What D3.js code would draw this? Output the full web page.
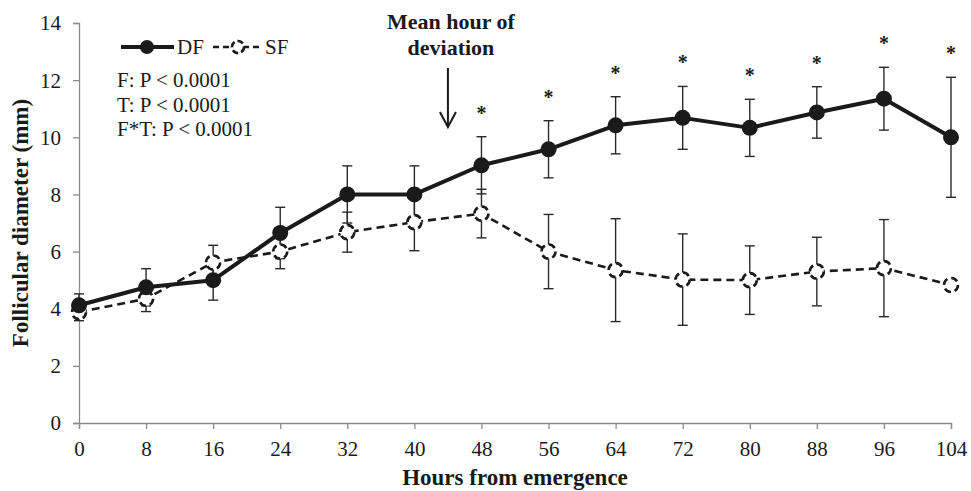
<!DOCTYPE html>
<html>
<head>
<meta charset="utf-8">
<script src="https://cdn.jsdelivr.net/npm/d3@7"></script>
<style>
  body { margin: 0; background: #fff; }
  svg text { font-family: "Liberation Serif", "Times New Roman", serif; fill: #1a1a1a; }
</style>
</head>
<body>
<svg id="viz" width="971" height="491"></svg>
<script>
// Follicular diameter chart

var hours = [0, 8, 16, 24, 32, 40, 48, 56, 64, 72, 80, 88, 96, 104];
var dfMean = [4.12, 4.75, 5.0, 6.65, 8.0, 8.0, 9.02, 9.58, 10.42, 10.68, 10.33, 10.87, 11.35, 10.0];
var dfErr = [0.4, 0.65, 0.7, 0.9, 1.0, 1.0, 1.0, 1.0, 1.0, 1.1, 1.0, 0.9, 1.1, 2.1];
var sfMean = [3.88, 4.35, 5.62, 6.0, 6.68, 7.03, 7.33, 6.0, 5.35, 5.02, 5.0, 5.3, 5.42, 4.83];
var sfErr = [0.3, 0.45, 0.6, 0.6, 0.7, 1.0, 0.85, 1.3, 1.8, 1.6, 1.2, 1.2, 1.7, 0];
var starHours = [48, 56, 64, 72, 80, 88, 96, 104];
var xTicks = [0, 8, 16, 24, 32, 40, 48, 56, 64, 72, 80, 88, 96, 104];
var yTicks = [0, 2, 4, 6, 8, 10, 12, 14];
var statLines = ["F: P < 0.0001", "T: P < 0.0001", "F*T: P < 0.0001"];
var deviationHour = 44;

var svg = d3.select("#viz");
var margin = {left: 79, right: 20, top: 23, bottom: 68};
var width = +svg.attr("width");
var height = +svg.attr("height");

var x = d3.scaleLinear().domain([0, 104]).range([margin.left, width - margin.right]);
var y = d3.scaleLinear().domain([0, 14]).range([height - margin.bottom, margin.top]);

var axisColor = "#8c8c8c";

// y axis
var yAxis = svg.append("g")
    .attr("transform", `translate(${margin.left},0)`)
    .call(d3.axisLeft(y).tickValues(yTicks).tickSize(6).tickPadding(12));
// x axis
var xAxis = svg.append("g")
    .attr("transform", `translate(0,${y(0)})`)
    .call(d3.axisBottom(x).tickValues(xTicks).tickSize(6).tickPadding(12));

[xAxis, yAxis].forEach(a => {
    a.select(".domain").attr("stroke", axisColor).attr("stroke-width", 1.3);
    a.selectAll(".tick line").attr("stroke", axisColor).attr("stroke-width", 1.3);
    a.selectAll(".tick text")
        .attr("font-size", 21)
        .attr("fill", "#1a1a1a")
        .style("font-family", "Liberation Serif, serif");
});
yAxis.selectAll(".tick text").attr("dy", "0.33em");

// axis titles
svg.append("text")
    .attr("transform", `translate(28,${y(7)}) rotate(-90)`)
    .attr("text-anchor", "middle")
    .attr("font-size", 23)
    .attr("font-weight", "bold")
    .text("Follicular diameter (mm)");
svg.append("text")
    .attr("x", x(52))
    .attr("y", 485)
    .attr("text-anchor", "middle")
    .attr("font-size", 23)
    .attr("font-weight", "bold")
    .text("Hours from emergence");

var dfData = hours.map((h, i) => ({h: h, m: dfMean[i], e: dfErr[i]}));
var sfData = hours.map((h, i) => ({h: h, m: sfMean[i], e: sfErr[i]}));

// error bars
function drawErrors(data) {
    var g = svg.append("g").attr("stroke", "#2a2a2a").attr("stroke-width", 1.4);
    data.filter(d => d.e > 0).forEach(d => {
        var cx = x(d.h), y1 = y(d.m + d.e), y2 = y(d.m - d.e);
        g.append("line").attr("x1", cx).attr("x2", cx).attr("y1", y1).attr("y2", y2);
        g.append("line").attr("x1", cx - 5).attr("x2", cx + 5).attr("y1", y1).attr("y2", y1);
        g.append("line").attr("x1", cx - 5).attr("x2", cx + 5).attr("y1", y2).attr("y2", y2);
    });
}
drawErrors(sfData);
drawErrors(dfData);

var line = d3.line().x(d => x(d.h)).y(d => y(d.m));

// SF series
svg.append("path")
    .datum(sfData)
    .attr("fill", "none")
    .attr("stroke", "#1a1a1a")
    .attr("stroke-width", 2.6)
    .attr("stroke-dasharray", "8,5")
    .attr("d", line);
svg.append("g").selectAll("circle")
    .data(sfData)
    .enter()
    .append("circle")
    .attr("cx", d => x(d.h))
    .attr("cy", d => y(d.m))
    .attr("r", 7)
    .attr("fill", "#fff")
    .attr("stroke", "#1a1a1a")
    .attr("stroke-width", 2.6)
    .attr("stroke-dasharray", "7,4");

// DF series
svg.append("path")
    .datum(dfData)
    .attr("fill", "none")
    .attr("stroke", "#1a1a1a")
    .attr("stroke-width", 4)
    .attr("stroke-linejoin", "round")
    .attr("d", line);
svg.append("g").selectAll("circle")
    .data(dfData)
    .enter()
    .append("circle")
    .attr("cx", d => x(d.h))
    .attr("cy", d => y(d.m))
    .attr("r", 8)
    .attr("fill", "#1a1a1a");

// significance stars
svg.append("g").selectAll("text")
    .data(dfData.filter(d => starHours.includes(d.h)))
    .enter()
    .append("text")
    .attr("x", d => x(d.h))
    .attr("y", d => y(d.m + d.e) - 17)
    .attr("text-anchor", "middle")
    .attr("font-size", 20)
    .attr("font-weight", "bold")
    .text("*");

// annotation
var ax = x(deviationHour);
var ann = svg.append("g");
ann.append("text")
    .attr("x", ax + 3)
    .attr("y", 29)
    .attr("text-anchor", "middle")
    .attr("font-size", 22)
    .attr("font-weight", "bold")
    .text("Mean hour of");
ann.append("text")
    .attr("x", ax + 3)
    .attr("y", 55)
    .attr("text-anchor", "middle")
    .attr("font-size", 22)
    .attr("font-weight", "bold")
    .text("deviation");
ann.append("line")
    .attr("x1", ax).attr("x2", ax).attr("y1", 68).attr("y2", 126)
    .attr("stroke", "#1a1a1a").attr("stroke-width", 2);
ann.append("path")
    .attr("d", `M${ax - 8},${112} L${ax},${127} L${ax + 8},${112}`)
    .attr("fill", "none")
    .attr("stroke", "#1a1a1a")
    .attr("stroke-width", 2);

// legend
var legend = svg.append("g").attr("id", "legend");
legend.append("line")
    .attr("x1", 121).attr("x2", 174).attr("y1", 47).attr("y2", 47)
    .attr("stroke", "#1a1a1a").attr("stroke-width", 4);
legend.append("circle").attr("cx", 147).attr("cy", 47).attr("r", 7).attr("fill", "#1a1a1a");
legend.append("text").attr("x", 177).attr("y", 54).attr("font-size", 21).text("DF");
legend.append("line")
    .attr("x1", 213).attr("x2", 262).attr("y1", 47).attr("y2", 47)
    .attr("stroke", "#1a1a1a").attr("stroke-width", 2.6).attr("stroke-dasharray", "6,4");
legend.append("circle").attr("cx", 238).attr("cy", 47).attr("r", 6)
    .attr("fill", "#fff").attr("stroke", "#1a1a1a").attr("stroke-width", 2.6).attr("stroke-dasharray", "6,3");
legend.append("text").attr("x", 265).attr("y", 54).attr("font-size", 21).text("SF");

legend.selectAll("text.stat")
    .data(statLines)
    .enter()
    .append("text")
    .attr("class", "stat")
    .attr("x", 117)
    .attr("y", (d, i) => 87 + i * 24.5)
    .attr("font-size", 21)
    .text(d => d);
</script>
</body>
</html>
